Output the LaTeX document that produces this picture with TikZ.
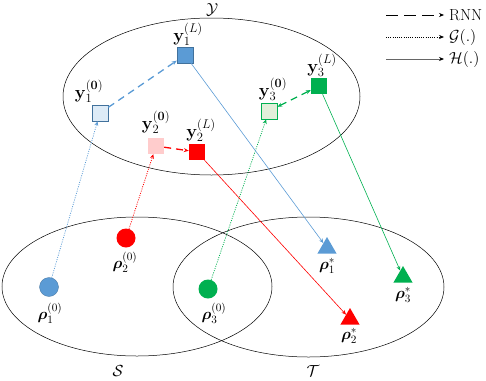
\RequirePackage{fix-cm}
\documentclass[tikz,border=0pt]{standalone}
\usepackage{bm}
\usetikzlibrary{shapes.geometric,arrows.meta}
\definecolor{cblue}{HTML}{5B9BD5}
\definecolor{cbluel}{HTML}{DDEBF7}
\definecolor{cblued}{HTML}{41719C}
\definecolor{cred}{HTML}{FF0000}
\definecolor{credl}{HTML}{FFCCCC}
\definecolor{cgreen}{HTML}{00B050}
\definecolor{cgreenl}{HTML}{E2EFDA}
\tikzset{
  ell/.style={draw=black,line width=0.5pt},
  sq/.style={rectangle,minimum size=16pt,inner sep=0pt},
  dot/.style={circle,minimum size=19pt,inner sep=0pt},
  tri/.style={regular polygon,regular polygon sides=3,minimum size=22pt,inner sep=0pt},
  lbl/.style={inner sep=0pt,font=\fontsize{16}{18}\selectfont},
  ylbl/.style={inner sep=0pt,font=\fontsize{18}{20}\selectfont},
  leg/.style={inner sep=0pt,font=\fontsize{16}{18}\selectfont},
  gline/.style={line width=0.75pt,dash pattern=on 1pt off 1.3pt,-{Stealth[length=4.5pt,width=4pt]}},
  hline/.style={line width=0.6pt,-{Stealth[length=4.5pt,width=4pt]}},
  rline/.style={line width=1.3pt,dash pattern=on 7pt off 5pt,-{Stealth[length=5pt,width=4pt]}},
}
\begin{document}
\begin{tikzpicture}[x=1pt,y=-1pt]
\useasboundingbox (0,0) rectangle (486,380);
% ellipses
\draw[ell] (211.5,96.5) ellipse [x radius=148.5pt, y radius=78.5pt];
\draw[ell] (137,286.5) ellipse [x radius=135pt, y radius=69.5pt];
\draw[ell] (308.5,287) ellipse [x radius=135.5pt, y radius=70pt];
\node[lbl] (lY) at (212,10) {$\mathcal{Y}$};
\node[lbl] (lS) at (118,371) {$\mathcal{S}$};
\node[lbl] (lT) at (313,371) {$\mathcal{T}$};
% squares
\node[sq,fill=cbluel,draw=cblued,line width=0.7pt] (y10) at (100,113) {};
\node[sq,fill=cblue,draw=cblued,line width=0.4pt] (y1L) at (185,55) {};
\node[sq,fill=credl] (y20) at (156,146) {};
\node[sq,fill=cred] (y2L) at (197,152) {};
\node[sq,fill=cgreenl,draw=cgreen,line width=0.7pt] (y30) at (269,111) {};
\node[sq,fill=cgreen] (y3L) at (319,86) {};
\node[ylbl] (ly10) at (89,91) {$\mathbf{y}_1^{(\mathbf{0})}$};
\node[ylbl] (ly1L) at (188,34) {$\mathbf{y}_1^{(L)}$};
\node[ylbl] (ly20) at (156,122) {$\mathbf{y}_2^{(\mathbf{0})}$};
\node[ylbl] (ly2L) at (201,130) {$\mathbf{y}_2^{(L)}$};
\node[ylbl] (ly30) at (273,89) {$\mathbf{y}_3^{(\mathbf{0})}$};
\node[ylbl] (ly3L) at (322,65) {$\mathbf{y}_3^{(L)}$};
% circles
\node[dot,fill=cblue,draw=cblued,line width=0.3pt] (r10) at (49,287) {};
\node[dot,fill=cred] (r20) at (126,238) {};
\node[dot,fill=cgreen] (r30) at (208,289) {};
\node[lbl] (lr10) at (50,313) {$\bm{\rho}_1^{(0)}$};
\node[lbl] (lr20) at (125,262) {$\bm{\rho}_2^{(0)}$};
\node[lbl] (lr30) at (214,313) {$\bm{\rho}_3^{(0)}$};
% triangles
\node[tri,fill=cblue] (r1s) at (327,248) {};
\node[tri,fill=cred] (r2s) at (350,319) {};
\node[tri,fill=cgreen] (r3s) at (403,277) {};
\node[lbl] (lr1s) at (327,266) {$\bm{\rho}_1^{*}$};
\node[lbl] (lr2s) at (349,336) {$\bm{\rho}_2^{*}$};
\node[lbl] (lr3s) at (403,295) {$\bm{\rho}_3^{*}$};
% G connectors
\draw[gline,cblue] (r10) -- (y10);
\draw[gline,cred] (r20) -- (y20);
\draw[gline,cgreen] (r30) -- (y30);
% RNN connectors
\draw[rline,cblue] (y10) -- (y1L);
\draw[rline,cred] (y20) -- (y2L);
\draw[rline,cgreen,{Stealth[length=5pt,width=4pt]}-{Stealth[length=5pt,width=4pt]}] (y30) -- (y3L);
% H connectors
\draw[hline,cblue] (y1L) -- (r1s);
\draw[hline,cred] (y2L) -- (r2s);
\draw[hline,cgreen] (y3L) -- (r3s);
% legend
\coordinate (a1) at (386,15); \coordinate (b1) at (444,15);
\coordinate (a2) at (386,37); \coordinate (b2) at (444,37);
\coordinate (a3) at (386,59); \coordinate (b3) at (444,59);
\draw[line width=0.7pt,dash pattern=on 12pt off 6pt,-{Stealth[length=5pt,width=4pt]}] (a1) -- (b1);
\draw[line width=0.7pt,dash pattern=on 1pt off 1.2pt,-{Stealth[length=5pt,width=4pt]}] (a2) -- (b2);
\draw[line width=1pt,gray!80!black,-{Stealth[length=5pt,width=4pt,black]}] (a3) -- (b3);
\node[leg,anchor=west] (lrnn) at (449,15) {RNN};
\node[leg,anchor=west] (lg) at (449,37) {$\mathcal{G}(.)$};
\node[leg,anchor=west] (lh) at (449,59) {$\mathcal{H}(.)$};
\end{tikzpicture}
\end{document}
